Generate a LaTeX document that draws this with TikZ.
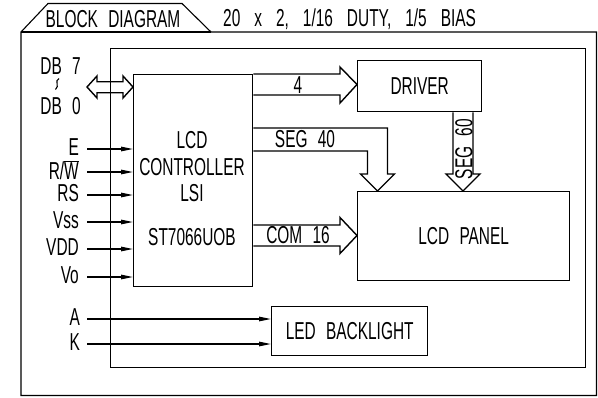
\documentclass[tikz,border=0pt]{standalone}
\usepackage{fontspec}
\setmainfont[FakeStretch=0.63,WordSpace=2.4]{Liberation Sans}
\usetikzlibrary{arrows.meta,calc}
\begin{document}
\begin{tikzpicture}[x=1pt,y=-1pt,
  line join=miter,
  frame/.style={draw=black,line width=1.1pt},
  blk/.style={draw=black,line width=1.4pt,inner sep=0pt,anchor=north west,rectangle},
  txt/.style={inner sep=0pt,font=\fontsize{24.5}{26}\selectfont},
  sig/.style={line width=1.3pt,-{Triangle[length=12pt,width=4.5pt]}},
  bus/.style={line width=1.4pt}]
\useasboundingbox (0,0) rectangle (598,397);
% outer frame with title tab
\draw[frame] (21,395.5) -- (21,32) -- (48,3.5) -- (182,3.5) -- (211,32) -- (596.5,32) -- (596.5,395.5) -- cycle;
\draw[frame] (21,32) -- (211,32);
\node[txt] (title) at (113,19) {BLOCK DIAGRAM};
\node[txt,anchor=west] (spec) at (223,19) {\spaceskip=14pt 20 x 2, 1/16 DUTY, 1/5 BIAS};
% module frame
\node[blk,minimum width=475pt,minimum height=319pt] (module) at (110,48) {};
% blocks
\node[blk,minimum width=119pt,minimum height=212pt] (ctrl) at (133,74) {};
\node[txt] (c1) at (192,140) {LCD};
\node[txt] (c2) at (192,167) {CONTROLLER};
\node[txt] (c3) at (192,193) {LSI};
\node[txt] (c4) at (192,237) {ST7066UOB};
\node[blk,minimum width=124pt,minimum height=51pt] (drv) at (357,60) {};
\node[txt] at (drv.center) {DRIVER};
\node[blk,minimum width=212pt,minimum height=89pt] (lcd) at (357,191) {};
\node[txt] at (lcd.center) {LCD PANEL};
\node[blk,minimum width=156pt,minimum height=49pt] (led) at (271,306) {};
\node[txt] at (led.center) {LED BACKLIGHT};
% data bus
\node[txt,anchor=east] (db7) at (81,66) {DB 7};
\node[txt,anchor=east] (db0) at (81,106) {DB 0};
\draw[line width=1.1pt] (59,78.5) .. controls (54,81) and (60,86) .. (55.5,89.5);
\coordinate (dbL) at (87,87);
\draw[bus] (dbL) -- (97,76) -- (97,81.7) -- (123,81.7) -- (123,76) -- (ctrl.west |- dbL) -- (123,98) -- (123,92.7) -- (97,92.7) -- (97,98) -- cycle;
% control signals
\foreach \n/\lab/\yy in {sE/E/149, sRS/RS/195, sVss/Vss/222, sVDD/VDD/249, sVo/Vo/277}{
  \coordinate (\n) at (87,\yy);
  \node[txt,anchor=east] at (79,\yy-1.5) {\lab};
  \draw[sig] (\n) -- (\n -| ctrl.west);
}
\coordinate (sRW) at (87,172);
\node[txt,anchor=east] at (79,170.5) {R/\smash{$\overline{\hbox{W}}$}};
\draw[sig] (sRW) -- (sRW -| ctrl.west);
% backlight
\coordinate (sA) at (87,319);
\coordinate (sK) at (87,344);
\node[txt,anchor=east] at (80,317.5) {A};
\node[txt,anchor=east] at (80,342.5) {K};
\draw[sig] (sA) -- (sA -| led.west);
\draw[sig] (sK) -- (sK -| led.west);
% bus 4 to driver
\draw[bus] (ctrl.east |- 0,74) -- (340,74) -- (340,67) -- (drv.west |- 0,84.5) -- (340,103) -- (340,95) -- (ctrl.east |- 0,95);
\node[txt] at (298,85) {4};
% SEG 40
\draw[bus] (ctrl.east |- 0,128) -- (387.5,128) -- (387.5,174) -- (394.5,174) -- (lcd.north -| 377.5,0) -- (360.5,174) -- (367.5,174) -- (367.5,151) -- (ctrl.east |- 0,151);
\node[txt] at (305,139.5) {SEG 40};
% SEG 60
\draw[bus] (drv.south -| 453,0) -- (453,174) -- (446,174) -- (lcd.north -| 463,0) -- (480,174) -- (473,174) -- (drv.south -| 473,0);
\node[txt,rotate=90] at (464,149) {SEG 60};
% COM 16
\draw[bus] (ctrl.east |- 0,225) -- (340,225) -- (340,217.5) -- (lcd.west |- 0,235.5) -- (340,253.5) -- (340,246) -- (ctrl.east |- 0,246);
\node[txt] at (298,235.5) {COM 16};
\end{tikzpicture}
\end{document}
